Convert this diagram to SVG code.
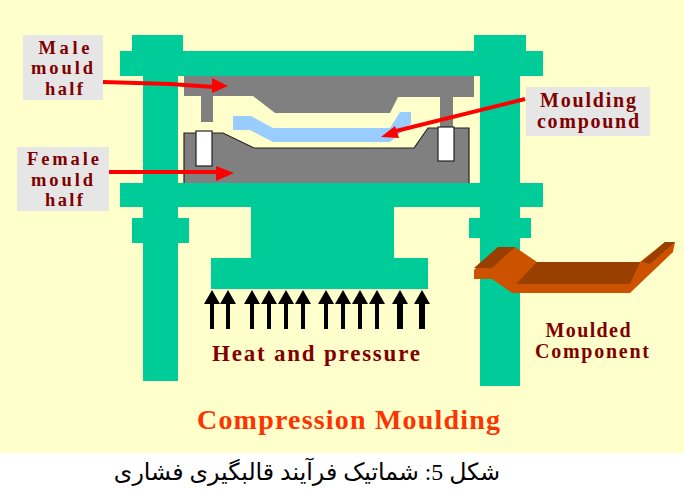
<svg xmlns="http://www.w3.org/2000/svg" width="684" height="491" viewBox="0 0 684 491">
<style>
.teal{fill:#00CC99}
.label{fill:#E6E6E6}
.t{font-family:"Liberation Serif","Times New Roman",serif;font-weight:bold;fill:#800000;font-size:20px;text-anchor:middle}
.s{font-size:18.5px}
.red{fill:none;stroke:#FF0000;stroke-width:4}
.redh{fill:#FF0000}
.pin{fill:#fff;stroke:#222;stroke-width:1.2}
</style>
<defs>
<path id="up" d="M-2,39V14H-8L0,0L8,14H2V39Z" fill="#000"/>
<path id="upw" d="M-3,39V14H-8L0,0L8,14H3V39Z" fill="#000"/>
</defs>
<rect width="684" height="453" fill="#FFFFCC"/>
<rect y="453" width="684" height="38" fill="#fff"/>
<g id="press">
<rect class="teal" x="132" y="35" width="51" height="20"/>
<rect class="teal" x="474" y="35" width="52" height="20"/>
<rect class="teal" x="120" y="51" width="423" height="25"/>
<rect class="teal" x="143" y="70" width="35" height="311"/>
<rect class="teal" x="480" y="70" width="40" height="316"/>
<rect class="teal" x="120" y="183" width="423" height="24"/>
<rect class="teal" x="132" y="218" width="57" height="25"/>
<rect class="teal" x="469" y="218" width="62" height="20"/>
<rect class="teal" x="251" y="205" width="143" height="55"/>
<rect class="teal" x="211" y="258" width="217" height="31"/>
</g>
<g id="male-mould">
<path fill="#808080" d="M184,76H474V97H398L390,113H275L253,96H213V122H201V96H184Z"/>
<rect x="440" y="96" width="13" height="32" fill="#808080"/>
</g>
<g id="compound">
<path fill="#99CCFF" d="M233,116H251L273,128H390L400,112H411V124L390,142H273L250,130H233Z"/>
</g>
<g id="female-mould">
<path fill="#808080" d="M184,183V133H223L254,148H414L428,128H469V183Z"/>
<path fill="none" stroke="#222" stroke-width="1.2" d="M184,183V133H223L254,148H414L428,128H469V183"/>
<rect class="pin" x="196" y="131" width="16" height="35"/>
<rect class="pin" x="438" y="127" width="16" height="34"/>
</g>
<g id="male-label">
<rect class="label" x="23" y="35" width="80" height="65"/>
<text class="t s" x="64" y="54" textLength="51">Male</text>
<text class="t s" x="62" y="74" textLength="62">mould</text>
<text class="t s" x="64" y="95" textLength="38">half</text>
</g>
<g id="female-label">
<rect class="label" x="17" y="147" width="92" height="64"/>
<text class="t s" x="63" y="165" textLength="72">Female</text>
<text class="t s" x="62" y="186" textLength="62">mould</text>
<text class="t s" x="64" y="206" textLength="38">half</text>
</g>
<g id="compound-label">
<rect class="label" x="526" y="87" width="124" height="49"/>
<text class="t" x="588" y="107" textLength="96">Moulding</text>
<text class="t" x="588" y="128" textLength="102">compound</text>
</g>
<g id="connectors">
<path class="red" d="M103,82L170,84L214,87"/>
<path class="redh" d="M212,78L228,86L212,93Z"/>
<path class="red" d="M109,172H218"/>
<path class="redh" d="M216,166L234,173L216,181Z"/>
<path class="red" d="M525,99L392,132"/>
<path class="redh" d="M395,126L381,137L399,138Z"/>
<use href="#up" x="212" y="290"/>
<use href="#up" x="228" y="290"/>
<use href="#up" x="252" y="290"/>
<use href="#up" x="269" y="290"/>
<use href="#up" x="286" y="290"/>
<use href="#up" x="303" y="290"/>
<use href="#up" x="326" y="290"/>
<use href="#up" x="343" y="290"/>
<use href="#up" x="360" y="290"/>
<use href="#up" x="377" y="290"/>
<use href="#upw" x="400" y="290"/>
<use href="#upw" x="422" y="290"/>
</g>
<g id="moulded-component">
<path fill="#CC5200" d="M474,270L498,247H515L537,262H640L665,242H675L673,252L630,293H512L492,279H474Z"/>
<path fill="#994000" d="M474,268L498,247H515L492,268Z"/>
<path fill="#994000" d="M537,262H640L630,284H516Z"/>
<path fill="#994000" d="M642,262L665,242H675L650,264Z"/>
</g>
<text class="t" id="moulded-1" x="588" y="337" textLength="85">Moulded</text>
<text class="t" id="moulded-2" x="592" y="358" textLength="114">Component</text>
<text class="t" id="heat" x="316" y="361" style="font-size:23px" textLength="208">Heat and pressure</text>
<text class="t" id="title" x="348.5" y="429" style="font-size:28px;fill:#FF3300" textLength="303">Compression Moulding</text>
<text id="caption" x="500" y="480" direction="rtl" font-family="'Liberation Serif','DejaVu Sans',serif" font-size="23.7" fill="#000">شکل 5: شماتیک فرآیند قالبگیری فشاری</text>
</svg>
